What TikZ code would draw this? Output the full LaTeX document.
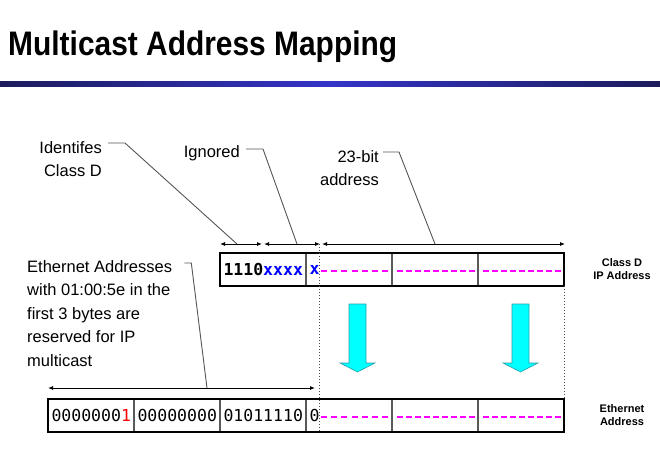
\documentclass[tikz,border=0pt]{standalone}
\usepackage{fontspec}
\setmainfont{Liberation Sans}
\newfontfamily\titlefont[FakeStretch=0.88]{Liberation Sans}
\newfontfamily\bitfont{DejaVu Sans Mono}
\usepackage{xcolor}
\usetikzlibrary{calc,arrows.meta}
\definecolor{navy}{RGB}{28,28,92}
\definecolor{rulblue}{RGB}{52,52,200}
\definecolor{leadgray}{RGB}{85,85,85}
\definecolor{arredge}{RGB}{40,160,170}
\definecolor{bitpink}{RGB}{255,0,255}
\definecolor{aqua}{RGB}{0,255,255}
\definecolor{bitblue}{RGB}{0,0,255}
\definecolor{bitred}{RGB}{255,0,0}

\begin{document}
\begin{tikzpicture}[x=1pt,y=-1pt,
    cell/.style={draw=gray!70!black, line width=1.1pt, minimum height=33pt,
      inner sep=3.5pt, outer sep=0pt, text width=79pt, align=left, anchor=north west,
      font=\bitfont\fontsize{16.5}{18}\selectfont},
    frame/.style={draw=black, line width=1.2pt},
    guide/.style={gray!60!black, line width=1pt, dotted},
    dim/.style={{Latex[length=5pt,width=4pt]}-{Latex[length=5pt,width=4pt]}, line width=0.9pt},
    leader/.style={leadgray, line width=0.9pt},
    note/.style={inner sep=0pt, font=\fontsize{16.5}{23.5}\selectfont},
    side/.style={inner sep=0pt, align=center, font=\bfseries\fontsize{11}{13.5}\selectfont},
    blockarrow/.style={fill=aqua, draw=arredge, line width=0.6pt}]
    \useasboundingbox (0,0) rectangle (660,475);

    % title and rule
    \node[anchor=base west, inner sep=0pt, font=\titlefont\bfseries\fontsize{34}{40}\selectfont]
      (title) at (8,55) {Multicast Address Mapping};
    \shade[left color=navy, right color=navy, middle color=rulblue] (0,81) rectangle (660,86);

    % class D address
    \node[cell] (ip1) at (220,253) {\textbf{1110\textcolor{bitblue}{xxxx}}};
    \node[cell] (ip2) at (306,253) {\textbf{\textcolor{bitblue}{x}}};
    \node[cell] (ip3) at (392,253) {};
    \node[cell] (ip4) at (478,253) {};
    \draw[frame] (ip1.north west) rectangle (ip4.south east);

    % ethernet address
    \node[cell] (eth1) at (48,399) {0000000\textcolor{bitred}{1}};
    \node[cell] (eth2) at (134,399) {00000000};
    \node[cell] (eth3) at (220,399) {01011110};
    \node[cell] (eth4) at (306,399) {0};
    \node[cell] (eth5) at (392,399) {};
    \node[cell] (eth6) at (478,399) {};
    \draw[frame] (eth1.north west) rectangle (eth6.south east);

    % the 23 mapped bits, as rows of dashes
    \foreach \c/\s/\n/\p in {ip2/15/6/10.2,ip3/5/8/9,ip4/5/8/9,eth4/15/6/10.2,eth5/5/8/9,eth6/5/8/9}
      \foreach \k in {0,...,\n}
        \fill[bitpink] ([xshift=\s pt+\k*\p pt,yshift=-0.9pt]\c.west) rectangle ++(6,1.8);

    % field widths
    \coordinate (d0) at (220,244);
    \coordinate (d1) at (263,244);
    \coordinate (d2) at (321,244);
    \coordinate (d3) at (565,244);
    \coordinate (e0) at (48,388);
    \coordinate (e1) at (315,388);
    \draw[dim] (d0) -- ([xshift=-1pt]d1);
    \draw[dim] ([xshift=1pt]d1) -- ([xshift=-1pt]d2);
    \draw[dim] ([xshift=1pt]d2) -- (d3);
    \draw[dim] (e0) -- (e1);

    \draw[guide] (d2 -| 319,0) -- (eth4.south west -| 319,0);
    \draw[guide] (ip4.south east) -- (eth6.north east);

    % labels
    \node[note, align=right, anchor=north east] (idl) at (102,141) {Identifes\\Class D};
    \node[note, anchor=north east] (ign) at (240,145) {Ignored};
    \node[note, align=right, anchor=north east] (addr) at (379,150) {23-bit\\address};
    \node[note, align=left, anchor=north west] (ethl) at (27,260)
      {Ethernet Addresses\\with 01:00:5e in the\\first 3 bytes are\\reserved for IP\\multicast};
    \node[side] (ipn) at (622,269) {Class D\\IP Address};
    \node[side] (ethn) at (622,415) {Ethernet\\Address};

    \coordinate (idp) at (237,244);
    \coordinate (ignp) at (297,244);
    \coordinate (addrp) at (435,244);
    \coordinate (ethp) at (207,388);
    \draw[leader] ([xshift=6pt,yshift=-2pt]idl.north east) -- ++(17,0) -- (idp);
    \draw[leader] ([xshift=6pt,yshift=-4pt]ign.north east) -- ++(17,0) -- (ignp);
    \draw[leader] ([xshift=4pt,yshift=-2pt]addr.north east) -- ++(16,0) -- (addrp);
    \draw[leader] ([xshift=12pt,yshift=-3pt]ethl.north east) -- ++(7,0) -- (ethp);

    % mapping arrows
    \foreach \cx in {357.5,520.5}
      \draw[blockarrow] (\cx-8.5,304) -- (\cx+8.5,304) -- (\cx+8.5,363) -- (\cx+17.5,363)
        -- (\cx,372) -- (\cx-17.5,363) -- (\cx-8.5,363) -- cycle;
  \end{tikzpicture}
\end{document}
